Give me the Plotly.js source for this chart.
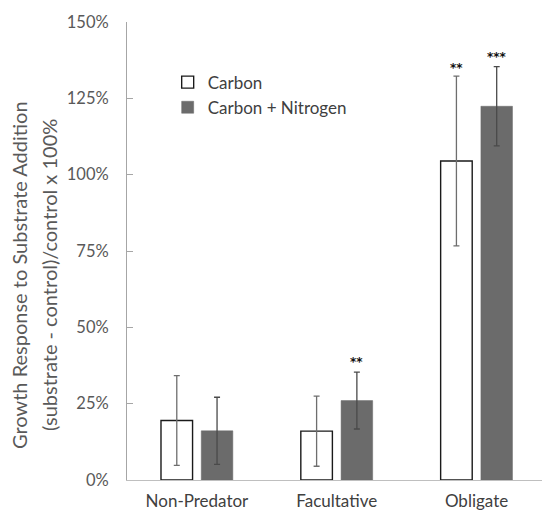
<!DOCTYPE html>
<html>
<head>
<meta charset="utf-8">
<script src="https://cdn.plot.ly/plotly-3.0.1.min.js"></script>
<style>
html,body{margin:0;padding:0;background:#fff;}
#chart{width:542px;height:512px;}
</style>
</head>
<body>
<div id="chart"></div>
<script>
const categories = ["Non-Predator", "Facultative", "Obligate"];
const carbonValues = [19.5, 16.0, 104.5];
const carbonErrors = [14.7, 11.5, 27.8];
const nitrogenValues = [16.1, 26.0, 122.4];
const nitrogenErrors = [11.0, 9.3, 13.0];
const carbonStars = ["", "", "**"];
const nitrogenStars = ["", "**", "***"];
const yTickValues = [0, 25, 50, 75, 100, 125, 150];
const yTickLabels = ["0%", "25%", "50%", "75%", "100%", "125%", "150%"];
const yTitleLines = ["Growth Response to Substrate Addition", "(substrate - control)/control x 100%"];

const FONT = "Lato, 'Open Sans', sans-serif";

const traces = [
  {
    type: "bar", name: "Carbon", x: categories, y: carbonValues,
    marker: {color: "#ffffff", line: {color: "#1a1a1a", width: 1.4}},
    error_y: {type: "data", array: carbonErrors, visible: true, color: "#6e6e6e", thickness: 1.3, width: 3}
  },
  {
    type: "bar", name: "Carbon + Nitrogen", x: categories, y: nitrogenValues,
    marker: {color: "#6b6b6b", line: {color: "#6b6b6b", width: 0.5}},
    error_y: {type: "data", array: nitrogenErrors, visible: true, color: "#4a4a4a", thickness: 1.3, width: 3}
  }
];

const annotations = [];
categories.forEach((c, i) => {
  if (carbonStars[i]) annotations.push({x: c, y: carbonValues[i] + carbonErrors[i], xref: "x", yref: "y",
    text: "<b>" + carbonStars[i] + "</b>", showarrow: false, xshift: -20, yanchor: "bottom", yshift: -1,
    font: {family: "'DejaVu Sans', sans-serif", size: 12, color: "#111"}});
  if (nitrogenStars[i]) annotations.push({x: c, y: nitrogenValues[i] + nitrogenErrors[i], xref: "x", yref: "y",
    text: "<b>" + nitrogenStars[i] + "</b>", showarrow: false, xshift: 20, yanchor: "bottom", yshift: 1,
    font: {family: "'DejaVu Sans', sans-serif", size: 12, color: "#111"}});
});
// y-axis title lines
const titleX = [-0.2602, -0.188];
yTitleLines.forEach((t, i) => {
  annotations.push({x: titleX[i], y: 0.5, xref: "paper", yref: "paper", text: t, showarrow: false,
    textangle: -90, xanchor: "center", yanchor: "middle", yshift: -24,
    font: {family: FONT, size: 20, color: "#595959"}});
});

const layout = {
  width: 542, height: 512,
  margin: {l: 127, r: 0, t: 22, b: 32, pad: 0},
  paper_bgcolor: "#ffffff", plot_bgcolor: "#ffffff",
  font: {family: FONT, color: "#595959"},
  barmode: "group", bargap: 0.424, bargroupgap: 0.216,
  showlegend: true,
  legend: {x: 0.098, y: 0.907, xanchor: "left", yanchor: "top", bgcolor: "rgba(0,0,0,0)",
    font: {family: FONT, size: 17, color: "#404040"}, itemwidth: 30, tracegroupgap: 12},
  xaxis: {
    range: [-0.5, 2.468], showgrid: false, zeroline: false, showline: true,
    linecolor: "#bfbfbf", linewidth: 1, ticks: "", ticklabelstandoff: 6,
    tickfont: {family: FONT, size: 17, color: "#404040"}
  },
  yaxis: {
    range: [0, 150], tickvals: yTickValues, ticktext: yTickLabels,
    showgrid: false, zeroline: false, showline: true, linecolor: "#a6a6a6", linewidth: 1,
    ticks: "inside", ticklen: 6, tickcolor: "#a6a6a6", ticklabelstandoff: 14,
    tickfont: {family: FONT, size: 16.5, color: "#595959"}
  },
  annotations: annotations
};

Plotly.newPlot("chart", traces, layout, {displayModeBar: false, staticPlot: true});
</script>
</body>
</html>
